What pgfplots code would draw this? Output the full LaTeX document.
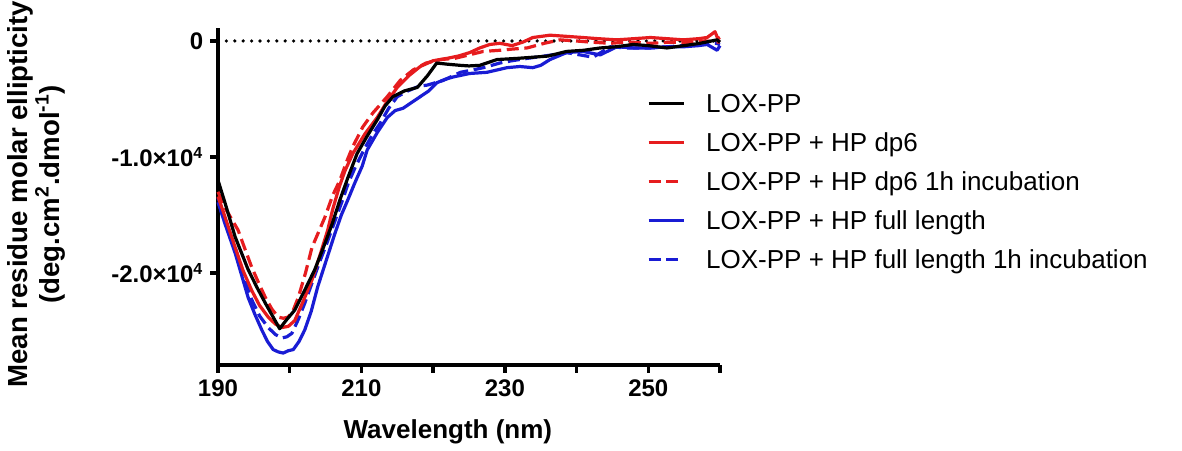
\documentclass[border=0pt]{standalone}
\usepackage{fontspec}
\setmainfont{Liberation Sans}
\usepackage{pgfplots}
\pgfplotsset{compat=1.18}

\definecolor{cdred}{RGB}{230,28,30}
\definecolor{cdblue}{RGB}{25,28,212}

% CD spectra
\pgfplotstableread{
x y
190 -12000
191 -14000
192.4 -16900
193.3 -18300
194.2 -19700
195.4 -21200
196.6 -22600
197.6 -23700
198.6 -24800
199.6 -24000
200.7 -23200
202 -21600
203.5 -19700
204.7 -17800
205.9 -15800
207 -13700
208.1 -11800
209.4 -9700
210.8 -8200
212.2 -6800
213.3 -5600
214.4 -4800
216 -4300
217.8 -4000
219.2 -3000
220.5 -1900
222 -2000
223.8 -2100
225 -2150
226.5 -2100
228.9 -1600
231.7 -1500
233.9 -1400
236 -1300
238.6 -900
241 -800
243.3 -600
245.5 -500
247.9 -300
250 -400
252.6 -600
255 -400
257.2 -200
259.6 100
260 -100
}\lox

\pgfplotstableread{
x y
190 -13400
191 -15200
192.4 -17800
193.5 -19800
194.7 -21500
195.8 -22800
197 -23800
198 -24400
198.9 -24700
199.8 -24600
200.7 -24100
201.9 -22400
203.1 -20600
204.2 -18500
205.3 -16300
206 -14500
206.9 -12600
207.7 -11200
208.8 -9700
210.5 -8000
212.2 -6600
213.6 -5200
215 -4000
216.6 -3000
218.2 -2200
220 -1700
221.9 -1500
223.5 -1300
225.1 -1000
226.5 -600
227.9 -300
229.3 -200
231 -400
232.5 -100
233.9 300
236.3 500
238.6 400
240.9 300
243 200
245.6 100
248 200
250.3 300
252.6 200
254.9 100
257 200
258.2 300
259.3 800
259.7 200
260 300
}\dpsix

\pgfplotstableread{
x y
190 -13000
191 -14400
192.8 -16300
193.8 -18000
194.7 -19500
195.7 -20900
196.6 -22100
197.5 -23100
198.4 -23800
199.1 -23900
199.8 -23800
200.5 -23200
201.2 -22100
202.2 -20000
203.1 -17800
204 -16500
204.9 -15200
206 -13300
207 -12000
208 -10300
208.8 -9100
210.2 -7400
211.6 -6200
213.6 -4800
215.4 -3400
217.2 -2500
219 -1900
221 -1600
223 -1500
225 -1200
227 -900
229.3 -800
231 -700
233.1 -600
235.5 -200
237.7 100
240 0
242 -100
244.7 -200
247 -100
250.3 -200
253 -100
256 -100
258 0
260 -100
}\dpsixinc

\pgfplotstableread{
x y
190 -13900
191 -15800
192.4 -18300
193.3 -20200
194.2 -22100
195.1 -23500
196.1 -24900
196.9 -25900
197.7 -26600
198.4 -26800
199.1 -26900
199.8 -26700
200.5 -26600
201.3 -25900
202.1 -24900
203 -23300
203.9 -21200
205.1 -18900
206.3 -16600
207.2 -15000
208.1 -13700
209.1 -12200
210.1 -10800
210.8 -9400
212.2 -7900
213.6 -6600
214.7 -6000
215.8 -5800
217 -5300
218.2 -4800
219.4 -4300
220.5 -3600
221.7 -3300
222.8 -3100
225.1 -2800
227.5 -2700
230.3 -2300
232.1 -2200
233.9 -2300
235 -2100
236.3 -1600
238.6 -1000
240.9 -900
243.3 -1200
245.6 -500
248 -600
250.3 -600
252.6 -500
254.9 -500
257 -400
258.2 -300
259.6 -800
260 -400
}\full

\pgfplotstableread{
x y
190 -13500
191 -15400
192.4 -17800
193.5 -20200
194.7 -22300
195.8 -23700
197 -24700
198 -25300
198.9 -25600
199.6 -25500
200.3 -25200
201.2 -24000
202.1 -22600
203.2 -20700
204.2 -19000
205.2 -17400
206.2 -15700
207.2 -14000
208.2 -12200
209.2 -10800
210.5 -9200
211.6 -8000
212.6 -7100
213.8 -5800
215 -4800
216.5 -4300
218 -3900
219.2 -3800
221.4 -3400
223.8 -2700
225.5 -2500
227 -2300
229.3 -1900
231 -1700
233.1 -1500
235.5 -1300
238.6 -1000
240.5 -1200
242.3 -1400
244.7 -500
247 -600
250.3 -600
252.6 -500
254.9 -400
257 -300
259.5 -200
260 -300
}\fullinc

\begin{document}
\begin{tikzpicture}
\useasboundingbox (-109pt,-42.5pt) rectangle (482pt,182.5pt);
\begin{axis}[
  scale only axis,
  width=251pt, height=168.5pt,
  xmin=190, xmax=260,
  ymin=-27930, ymax=1120,
  axis x line=bottom, axis y line=left,
  axis line style={-, line width=1.7pt},
  tick align=outside,
  major tick length=3.8pt,
  tick style={line width=1.7pt, black},
  xtick={190,200,...,260},
  xticklabels={190,,210,,230,,250,},
  ytick={-20000,-10000,0},
  yticklabels={-2.0×10\textsuperscript{4},-1.0×10\textsuperscript{4},0},
  scaled y ticks=false,
  minor tick num=0,
  ticklabel style={font=\fontsize{12}{13}\selectfont\bfseries},
  xlabel={Wavelength (nm)},
  xlabel style={font=\fontsize{13}{15}\selectfont\bfseries,
    at={(axis description cs:0.458,0)}, anchor=base, yshift=-36.5pt},
  ylabel={Mean residue molar ellipticity\\(deg.cm\textsuperscript{2}.dmol\textsuperscript{-1})},
  ylabel style={font=\fontsize{13.8}{16}\selectfont\bfseries, align=center,
    at={(axis description cs:-0.3625,0.507)}, anchor=center},
  clip=false,
  reverse legend,
  legend image code/.code={\draw[#1] (0pt,0pt) -- (17.5pt,0pt);},
  legend style={draw=none, fill=none, inner sep=0pt, outer sep=0pt,
    at={(axis description cs:0.8546,0.804)}, anchor=north west,
    cells={anchor=west}, row sep=10.2pt, column sep=10.5pt,
    nodes={inner sep=0pt, text height=9.3pt, text depth=0pt},
    font=\fontsize{13}{15}\selectfont},
  every axis plot/.append style={line width=1.6pt, line join=round},
]
\addplot[black, line width=1.8pt, dash pattern=on 0pt off 4.2pt, line cap=round, forget plot]
  coordinates {(190,0) (260,0)};
\addplot[cdblue, dash pattern=on 6pt off 2.8pt] table {\fullinc};
\addlegendentry{LOX-PP + HP full length 1h incubation}
\addplot[cdblue] table {\full};
\addlegendentry{LOX-PP + HP full length}
\addplot[cdred, dash pattern=on 6pt off 2.8pt] table {\dpsixinc};
\addlegendentry{LOX-PP + HP dp6 1h incubation}
\addplot[cdred] table {\dpsix};
\addlegendentry{LOX-PP + HP dp6}
\addplot[black] table {\lox};
\addlegendentry{LOX-PP}
\end{axis}
\end{tikzpicture}
\end{document}
